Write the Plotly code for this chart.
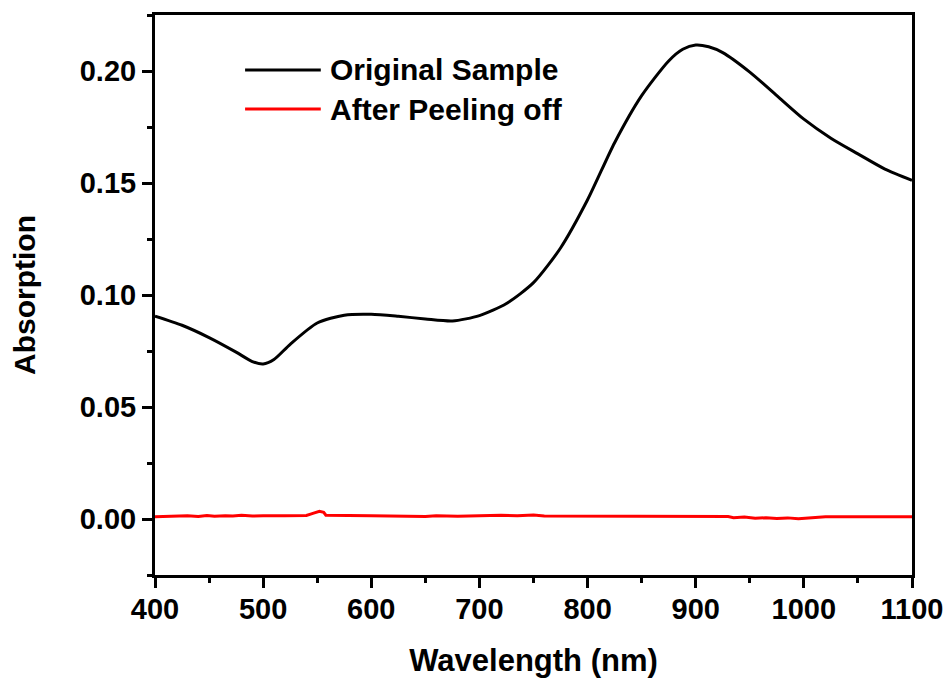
import plotly.graph_objects as go

# ---- data ----
wl_original = [400, 425, 450, 475, 490, 500, 510, 525, 550, 575, 600, 625, 650,
               675, 700, 725, 750, 775, 800, 825, 850, 875, 888, 900, 912,
               925, 950, 975, 1000, 1025, 1050, 1075, 1100]
abs_original = [0.0906, 0.0865, 0.0810, 0.0745, 0.0703, 0.0692, 0.0712, 0.0780,
                0.0875, 0.0910, 0.0914, 0.0905, 0.0893, 0.0884, 0.0908, 0.0962,
                0.1055, 0.1210, 0.1425, 0.1680, 0.1890, 0.2045, 0.2097,
                0.2116, 0.2108, 0.2082, 0.1995, 0.1890, 0.1785, 0.1700, 0.1630,
                0.1562, 0.1512]

wl_peeled = [400, 420, 430, 440, 448, 455, 465, 472, 480, 490, 500, 520, 540,
             546, 552, 556, 558, 600, 640, 650, 660, 680, 700, 720, 735, 750,
             760, 800, 900, 930, 935, 945, 955, 965, 975, 985, 995, 1005, 1015,
             1020, 1100]
abs_peeled = [0.0010, 0.0012, 0.0014, 0.0011, 0.0016, 0.0012, 0.0015, 0.0013,
              0.0017, 0.0013, 0.0015, 0.0015, 0.0016, 0.0025, 0.0034, 0.0030,
              0.0017, 0.0015, 0.0014, 0.0011, 0.0015, 0.0012, 0.0014, 0.0017,
              0.0015, 0.0018, 0.0013, 0.0012, 0.0012, 0.0011, 0.0006, 0.0009,
              0.0003, 0.0006, 0.0002, 0.0005, 0.0001, 0.0004, 0.0006, 0.0010,
              0.0010]

series_names = ["Original Sample", "After Peeling off"]
series_colors = ["#000000", "#FF0000"]

FONT = "Arial, Liberation Sans, sans-serif"

fig = go.Figure()
fig.add_trace(go.Scatter(
    x=wl_original, y=abs_original, mode="lines", name=series_names[0],
    line=dict(color=series_colors[0], width=3, shape="spline", smoothing=0.7),
    showlegend=False,
))
fig.add_trace(go.Scatter(
    x=wl_peeled, y=abs_peeled, mode="lines", name=series_names[1],
    line=dict(color=series_colors[1], width=3),
    showlegend=False,
))

# hand-drawn legend: long line samples like the original
legend_rows = [0.902, 0.832]
for name, color, yy in zip(series_names, series_colors, legend_rows):
    fig.add_shape(type="line", xref="paper", yref="paper",
                  x0=0.119, x1=0.219, y0=yy, y1=yy,
                  line=dict(color=color, width=3))
    fig.add_annotation(xref="paper", yref="paper", x=0.228, y=yy,
                       xanchor="left", yanchor="middle", showarrow=False,
                       text=name,
                       font=dict(family=FONT, size=30, color="#000000",
                                 weight="bold"))

axis_common = dict(
    showline=True, linecolor="#000000", linewidth=3, mirror=True,
    showgrid=False, zeroline=False, automargin=False,
    ticks="outside", ticklen=10, tickwidth=3, tickcolor="#000000",
    tickfont=dict(family=FONT, size=29, color="#000000", weight="bold"),
)

fig.update_xaxes(
    range=[400, 1100], dtick=100, tick0=400,
    minor=dict(dtick=50, ticks="outside", ticklen=5, tickwidth=3,
               tickcolor="#000000"),
    ticklabelstandoff=-4,
    title=dict(text="Wavelength (nm)", standoff=26,
               font=dict(family=FONT, size=31, color="#000000", weight="bold")),
    **axis_common,
)
fig.update_yaxes(
    range=[-0.025, 0.225], dtick=0.05, tick0=0, tickformat=".2f",
    minor=dict(dtick=0.025, ticks="outside", ticklen=5, tickwidth=3,
               tickcolor="#000000"),
    title=dict(text="Absorption", standoff=36,
               font=dict(family=FONT, size=30, color="#000000", weight="bold")),
    **axis_common,
)

fig.update_layout(
    width=948, height=679,
    paper_bgcolor="#FFFFFF", plot_bgcolor="#FFFFFF",
    margin=dict(l=155, r=36, t=15, b=104),
    showlegend=False,
)

# drop the page's default body margin so the figure sits at the window origin
fig.write_html("out.html", config={"displayModeBar": False},
               post_script="document.body.style.margin='0px';")
